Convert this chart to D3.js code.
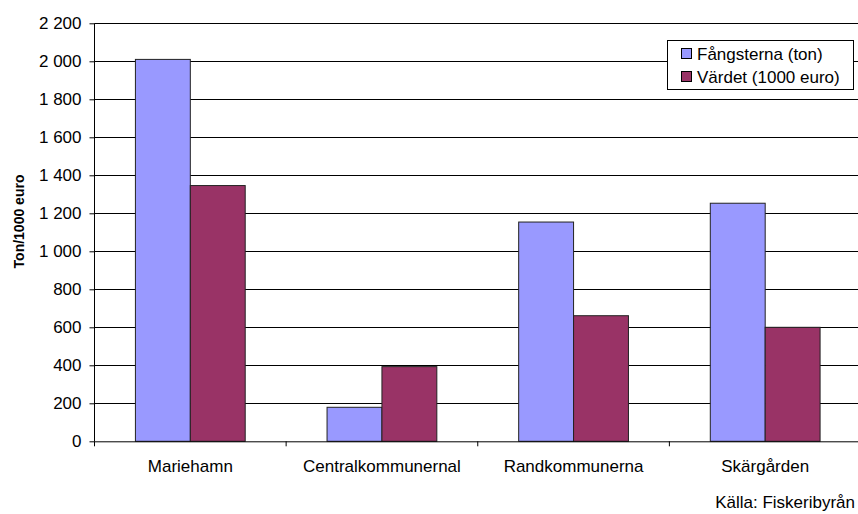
<!DOCTYPE html>
<html><head><meta charset="utf-8">
<script src="https://cdn.jsdelivr.net/npm/d3@7"></script>
<style>body{margin:0;background:#fff}svg{display:block}text{font-family:"Liberation Sans",Arial,sans-serif;fill:#000}</style>
</head><body>
<svg id="c" width="858" height="514"></svg>
<script>
const categories = ["Mariehamn","Centralkommunernal","Randkommunerna","Skärgården"];
const seriesNames = ["Fångsterna (ton)","Värdet (1000 euro)"];
const fangst = [2010, 179, 1154, 1253];
const vardet = [1346, 393, 661, 600];
const yTicks = [0,200,400,600,800,1000,1200,1400,1600,1800,2000,2200];
const colors = ["#9999FF","#993366"];

const svg = d3.select("#c");
const L = 94.5, R = 861, T = 23.3, B = 441.3;
const FS = "17px";
const x = d3.scaleBand().domain(categories).range([L,R]).paddingInner(0).paddingOuter(0);
const xs = d3.scaleBand().domain([0,1]).range([0,x.bandwidth()]).paddingInner(0).paddingOuter(41/55);
const y = d3.scaleLinear().domain([0,2200]).range([B,T]);
const fmt = v => d3.format(",")(v).replace(/,/g," ");

// gridlines
svg.append("g").selectAll("line").data(yTicks.filter(d=>d>0)).join("line")
  .attr("x1",L).attr("x2",R).attr("y1",d=>Math.round(y(d))+0.5).attr("y2",d=>Math.round(y(d))+0.5)
  .attr("stroke","#000").attr("stroke-width",1);

// bars
const data = categories.map((c,i)=>({c, v:[fangst[i], vardet[i]]}));
const g = svg.append("g");
data.forEach(d=>{
  d.v.forEach((v,j)=>{
    g.append("rect")
      .attr("x", x(d.c)+xs(j)).attr("width", xs.bandwidth())
      .attr("y", y(v)).attr("height", B - y(v))
      .attr("fill", colors[j]).attr("stroke","#222").attr("stroke-width",1);
  });
});

// y axis
const ya = d3.axisLeft(y).tickValues(yTicks).tickFormat(fmt).tickSize(5).tickPadding(8);
const yg = svg.append("g").attr("transform",`translate(${L},0)`).call(ya);
yg.select(".domain").attr("stroke","#000").attr("d",`M-0,${B}V${T}`);
yg.selectAll("line").attr("stroke","#000");
yg.selectAll("text").attr("font-size",FS).attr("font-family","Liberation Sans, Arial, sans-serif").attr("fill","#000");

// x axis
const xa = d3.axisBottom(x).tickSize(0).tickPadding(19);
const xg = svg.append("g").attr("transform",`translate(0,${B})`).call(xa);
xg.select(".domain").attr("stroke","#000").attr("d",`M${L},0.5H${R}`);
xg.selectAll("text").attr("font-size",FS).attr("font-family","Liberation Sans, Arial, sans-serif").attr("fill","#000");
svg.append("g").selectAll("line").data(d3.range(categories.length+1)).join("line")
  .attr("x1",i=>L+i*x.step()).attr("x2",i=>L+i*x.step())
  .attr("y1",B).attr("y2",B+5).attr("stroke","#000");

// y title
svg.append("text").attr("transform",`translate(24,${221.5}) rotate(-90)`)
  .attr("text-anchor","middle").attr("font-size","14px").attr("font-weight","bold").text("Ton/1000 euro");

// legend
const lg = svg.append("g").attr("transform","translate(667,40)");
lg.append("rect").attr("x",0.5).attr("y",0.5).attr("width",186).attr("height",49).attr("fill","#fff").attr("stroke","#000");
seriesNames.forEach((n,i)=>{
  lg.append("rect").attr("x",14.5).attr("y",8.5+i*23).attr("width",10).attr("height",10).attr("fill",colors[i]).attr("stroke","#000");
  lg.append("text").attr("x",30).attr("y",19.5+i*23).attr("font-size",FS).text(n);
});

// source
svg.append("text").attr("x",855).attr("y",508).attr("text-anchor","end").attr("font-size",FS).text("Källa: Fiskeribyrån");
</script>
</body></html>
